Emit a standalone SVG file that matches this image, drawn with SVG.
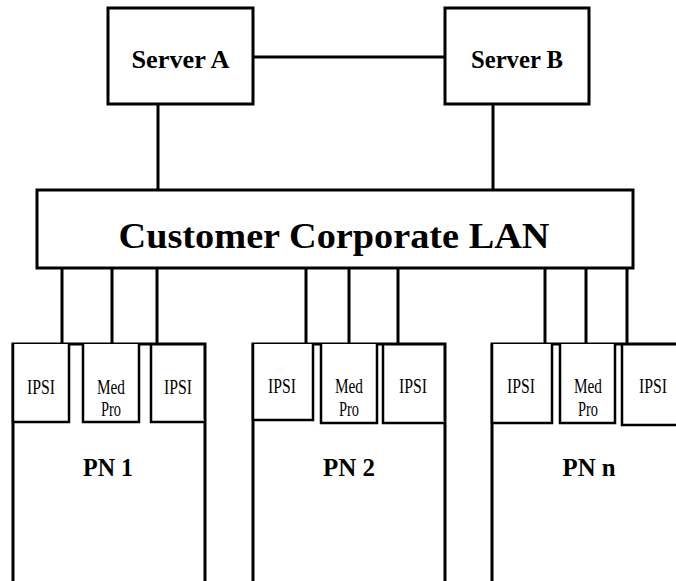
<svg xmlns="http://www.w3.org/2000/svg" width="676" height="581" viewBox="0 0 676 581">
<style>
.box{fill:#fff;stroke:#000;stroke-width:3}
.open{fill:none;stroke:#000;stroke-width:3}
.card{fill:#fff;stroke:#000;stroke-width:2.5}
.wire{fill:none;stroke:#000;stroke-width:3}
.bold{font-family:"Liberation Serif","Times New Roman",serif;font-weight:bold;fill:#000;text-anchor:middle}
.reg{font-family:"Liberation Serif","Times New Roman",serif;font-size:21px;fill:#000;text-anchor:middle}
</style>
<rect width="676" height="581" fill="#fff"/>
<g id="connectors">
<line class="wire" x1="253" y1="57" x2="445" y2="57"/>
<line class="wire" x1="158" y1="104" x2="158" y2="190"/>
<line class="wire" x1="493" y1="104" x2="493" y2="190"/>
<line class="wire" x1="62" y1="268" x2="62" y2="344"/>
<line class="wire" x1="112" y1="268" x2="112" y2="344"/>
<line class="wire" x1="157" y1="268" x2="157" y2="344"/>
<line class="wire" x1="306" y1="268" x2="306" y2="344"/>
<line class="wire" x1="349" y1="268" x2="349" y2="344"/>
<line class="wire" x1="398" y1="268" x2="398" y2="344"/>
<line class="wire" x1="545" y1="268" x2="545" y2="344"/>
<line class="wire" x1="586" y1="268" x2="586" y2="344"/>
<line class="wire" x1="627" y1="268" x2="627" y2="344"/>
</g>
<g id="serverA">
<rect class="box" x="108" y="8" width="145" height="96"/>
<text class="bold" x="180.5" y="68" font-size="25" textLength="98" lengthAdjust="spacingAndGlyphs">Server A</text>
</g>
<g id="serverB">
<rect class="box" x="445" y="8" width="144" height="96"/>
<text class="bold" x="517" y="68" font-size="25" textLength="92" lengthAdjust="spacingAndGlyphs">Server B</text>
</g>
<g id="lan">
<rect class="box" x="37" y="190" width="596" height="78"/>
<text class="bold" x="334" y="248" font-size="36" textLength="431" lengthAdjust="spacingAndGlyphs">Customer Corporate LAN</text>
</g>
<g id="pn1">
<path class="open" d="M13,583 V344 H205 V583"/>
<text class="bold" x="108" y="476" font-size="26" textLength="50" lengthAdjust="spacingAndGlyphs">PN 1</text>
<g id="pn1-ipsi1"><path class="card" d="M13,344 V422 H69 V344"/><text class="reg" x="41" y="394" textLength="28" lengthAdjust="spacingAndGlyphs">IPSI</text></g>
<g id="pn1-medpro"><path class="card" d="M83,344 V422 H139 V344"/><text class="reg" x="111" y="394" textLength="28" lengthAdjust="spacingAndGlyphs">Med</text><text class="reg" x="111" y="416" textLength="20" lengthAdjust="spacingAndGlyphs">Pro</text></g>
<g id="pn1-ipsi2"><path class="card" d="M151,344 V422 H205"/><text class="reg" x="178" y="394" textLength="28" lengthAdjust="spacingAndGlyphs">IPSI</text></g>
</g>
<g id="pn2">
<path class="open" d="M253,583 V344 H445 V583"/>
<text class="bold" x="349" y="476" font-size="26" textLength="52" lengthAdjust="spacingAndGlyphs">PN 2</text>
<g id="pn2-ipsi1"><path class="card" d="M253,344 V420 H313 V344"/><text class="reg" x="282" y="393" textLength="28" lengthAdjust="spacingAndGlyphs">IPSI</text></g>
<g id="pn2-medpro"><path class="card" d="M321,344 V423 H377 V344"/><text class="reg" x="349" y="393" textLength="28" lengthAdjust="spacingAndGlyphs">Med</text><text class="reg" x="349" y="416" textLength="20" lengthAdjust="spacingAndGlyphs">Pro</text></g>
<g id="pn2-ipsi2"><path class="card" d="M383,344 V423 H445"/><text class="reg" x="413" y="393" textLength="28" lengthAdjust="spacingAndGlyphs">IPSI</text></g>
</g>
<g id="pnn">
<path class="open" d="M492,583 V344 H680"/>
<line x1="493.5" y1="344" x2="493.5" y2="423" stroke="#000" stroke-width="3"/>
<text class="bold" x="589" y="476" font-size="26" textLength="53" lengthAdjust="spacingAndGlyphs">PN n</text>
<g id="pnn-ipsi1"><path class="card" d="M492,344 V423 H552 V344"/><text class="reg" x="521" y="393" textLength="28" lengthAdjust="spacingAndGlyphs">IPSI</text></g>
<g id="pnn-medpro"><path class="card" d="M560,344 V423 H615 V344"/><text class="reg" x="588" y="393" textLength="28" lengthAdjust="spacingAndGlyphs">Med</text><text class="reg" x="588" y="416" textLength="20" lengthAdjust="spacingAndGlyphs">Pro</text></g>
<g id="pnn-ipsi2"><path class="card" d="M622,344 V425 H680"/><text class="reg" x="653" y="393" textLength="28" lengthAdjust="spacingAndGlyphs">IPSI</text></g>
</g>
</svg>
